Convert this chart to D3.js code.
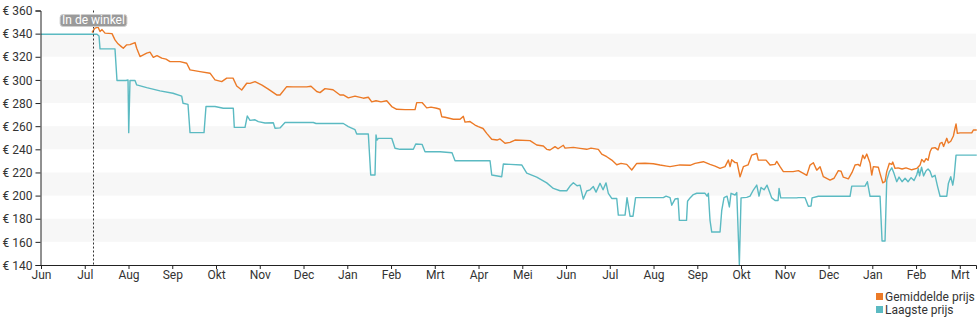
<!DOCTYPE html>
<html><head><meta charset="utf-8">
<script src="https://cdn.jsdelivr.net/npm/d3@7"></script>
<style>
body{margin:0;background:#fff;}
svg{font-family:Roboto,"Noto Sans",sans-serif;}
</style></head>
<body><svg id="c" width="980" height="325"></svg>
<script>
const monthLabels = ["Jun","Jul","Aug","Sep","Okt","Nov","Dec","Jan","Feb","Mrt","Apr","Mei","Jun","Jul","Aug","Sep","Okt","Nov","Dec","Jan","Feb","Mrt"];
const priceTicks = [140,160,180,200,220,240,260,280,300,320,340,360];
const bandRanges = [[320,340],[280,300],[240,260],[200,220],[160,180]];
const inStoreMonth = 1.19;
const inStoreLabel = "In de winkel";
const seriesNames = ["Gemiddelde prijs","Laagste prijs"];

// [month position, price]
const avgPrice = [
[1.166,341],[1.234,344.7],[1.303,345.6],[1.349,341.8],[1.394,343.5],[1.463,340.4],[1.623,340],[1.691,334.6],[1.760,331.2],[1.829,329],[1.881,327.4],[1.959,330.3],[2.034,330.5],[2.149,332.3],[2.187,327.4],[2.263,320.2],[2.416,323.1],[2.491,324],[2.567,319.5],[2.651,321],[2.759,318.8],[2.857,318],[2.949,315.8],[3.177,315.8],[3.330,314.4],[3.406,308.7],[3.634,307.2],[3.863,305.8],[3.977,300],[4.130,298.5],[4.245,301.5],[4.389,301.5],[4.473,294.8],[4.587,291.3],[4.702,297.1],[4.777,297],[4.891,298.5],[5.051,295.5],[5.195,292],[5.387,287],[5.463,287],[5.616,294.2],[5.760,294],[6.073,294],[6.171,294.5],[6.302,290],[6.377,289],[6.491,292.5],[6.674,291.5],[6.834,287],[6.910,287],[7.024,284.5],[7.177,286],[7.367,284.2],[7.481,285],[7.559,281],[7.657,282],[7.771,281],[7.902,282],[8.016,277],[8.130,274.6],[8.320,274.3],[8.549,274.3],[8.587,280.4],[8.709,280.4],[8.816,275.8],[8.914,276.5],[9.044,275.5],[9.120,274.6],[9.159,268.2],[9.234,267.7],[9.424,266],[9.577,266],[9.653,268.5],[9.691,263.5],[9.806,264],[9.920,261],[9.995,259.6],[10.103,258],[10.187,253.8],[10.302,248.7],[10.423,248],[10.491,249],[10.606,245.2],[10.720,246],[10.834,248],[11.177,247.5],[11.330,243.7],[11.481,242.9],[11.559,240],[11.634,239.4],[11.749,242.3],[11.817,240.5],[11.938,243.5],[11.977,241],[12.167,241.7],[12.320,240.8],[12.473,240],[12.571,241],[12.738,240],[12.816,235.9],[12.930,233.6],[13.045,230.7],[13.159,226.7],[13.257,227.8],[13.387,227],[13.502,222.1],[13.616,227.8],[13.806,228],[13.995,227.5],[14.149,226.4],[14.302,225.5],[14.377,225],[14.606,226.5],[14.834,226.2],[14.949,227.9],[15.138,229.3],[15.291,227],[15.406,225.5],[15.520,223.5],[15.634,225],[15.710,230.7],[15.749,225],[15.787,231],[15.863,228.5],[15.909,228.5],[15.977,216.3],[16.053,225],[16.160,226.5],[16.245,235],[16.359,236.4],[16.395,230.7],[16.571,230.7],[16.663,226.4],[16.777,227],[16.816,229.5],[16.891,225],[16.967,220.7],[17.189,220.7],[17.310,221.6],[17.424,219.2],[17.502,217.5],[17.577,226.4],[17.653,228.4],[17.730,222],[17.806,225],[17.881,216.3],[18.034,213.4],[18.126,215],[18.224,221.6],[18.286,221],[18.338,215.9],[18.453,214.5],[18.537,220],[18.606,226.4],[18.674,227],[18.720,225.5],[18.782,235],[18.823,232],[18.873,235.9],[18.949,227.9],[18.987,217.8],[19.024,225],[19.138,224.5],[19.177,219],[19.239,211.1],[19.291,212],[19.330,220.7],[19.390,227.9],[19.445,227],[19.467,229],[19.520,223.5],[19.589,224],[19.680,223],[19.771,224],[19.902,222.3],[20.016,223.5],[20.091,226.4],[20.130,231.3],[20.183,229],[20.229,232],[20.274,230.5],[20.320,237.9],[20.359,240.9],[20.434,241.5],[20.503,239.5],[20.549,245.2],[20.594,246],[20.629,242.5],[20.702,249.5],[20.739,245.5],[20.793,247],[20.853,251.5],[20.891,258.2],[20.914,261.9],[20.944,253.8],[21.006,254.2],[21.273,254.2],[21.310,256.7],[21.387,256.7]
];
const lowPrice = [
[0,339.5],[1.280,339.5],[1.326,338],[1.349,326.8],[1.691,326.8],[1.737,299.5],[1.943,299.5],[1.989,300],[2.005,254.4],[2.034,299.5],[2.149,299.5],[2.187,295.7],[2.416,293.3],[2.720,290.5],[3.017,288.5],[3.216,286],[3.246,279.8],[3.360,278.8],[3.406,254.4],[3.726,254.4],[3.771,277],[3.977,277],[4.167,275.5],[4.395,275.5],[4.418,259],[4.663,259],[4.715,268.8],[4.777,265],[4.891,265.5],[4.967,263.9],[5.120,262.8],[5.310,263],[5.349,258.2],[5.463,258.5],[5.577,263.2],[6.224,263.2],[6.286,262.3],[6.910,262.3],[7.024,259.6],[7.177,257],[7.216,253.2],[7.481,253.2],[7.536,217.8],[7.634,217.8],[7.657,252.4],[7.680,248],[7.710,249.5],[8.016,249.5],[8.091,240.9],[8.206,240],[8.510,240],[8.565,244.6],[8.709,244.3],[8.777,237.9],[9.120,237.9],[9.394,237],[9.463,230.1],[10.263,230.1],[10.302,217.8],[10.530,216.3],[10.567,227.3],[10.720,227],[10.987,226.5],[11.102,219.5],[11.330,216],[11.559,211],[11.710,206.2],[11.863,204.2],[12.016,204.2],[12.091,208.2],[12.167,211.1],[12.251,208.5],[12.320,209],[12.395,197],[12.473,204],[12.549,205],[12.624,207.8],[12.686,203],[12.777,210.6],[12.846,205],[12.914,211],[12.967,201.9],[13.045,197.5],[13.159,197.5],[13.195,183.1],[13.349,183.1],[13.394,198.2],[13.463,182.2],[13.531,182.2],[13.589,198.2],[14.224,198.2],[14.286,199.5],[14.377,198.2],[14.416,191.7],[14.491,197],[14.560,197.5],[14.590,178.6],[14.754,178.6],[14.777,195.1],[14.834,198],[14.910,200.9],[14.987,202],[15.177,202],[15.223,199.5],[15.253,202],[15.291,178.6],[15.330,168.5],[15.520,168.5],[15.559,187.3],[15.611,198.2],[15.680,199.5],[15.733,190.2],[15.771,202],[15.863,200.5],[15.902,202.6],[15.961,140.5],[16.000,198],[16.130,198.5],[16.206,199.5],[16.281,204.8],[16.359,209.1],[16.411,199.5],[16.457,207],[16.526,205],[16.594,209],[16.624,206],[16.702,198],[16.777,195.7],[16.846,195.7],[16.869,206.2],[16.907,198],[17.273,198],[17.310,198.2],[17.463,198.2],[17.538,190.8],[17.600,191],[17.623,198],[17.767,199.4],[18.491,199.4],[18.530,208.2],[18.834,208.2],[18.887,212],[18.949,199.4],[19.177,199.4],[19.223,160.8],[19.291,160.8],[19.330,213.4],[19.390,220.7],[19.445,224],[19.497,219],[19.559,212],[19.611,216],[19.680,212],[19.749,215],[19.817,212],[19.886,215.5],[19.954,213],[20.016,218],[20.053,223.2],[20.080,217],[20.126,224.5],[20.171,217],[20.229,221.5],[20.274,223],[20.320,221],[20.366,216],[20.434,217.5],[20.491,208],[20.549,199.4],[20.702,199.4],[20.739,210.5],[20.793,216.3],[20.839,209],[20.869,216],[20.914,235],[21.387,235]
];

const colors = ["#ec7a27","#5bbac2"];
const svg = d3.select("#c");
const x = d3.scaleLinear().domain([0, 21.37]).range([41, 976]);
const y = d3.scaleLinear().domain([140, 360]).range([265, 10.5]);

// bands
svg.append("g").selectAll("rect").data(bandRanges).join("rect")
  .attr("x", x(0)).attr("width", x(21.37) - x(0))
  .attr("y", d => y(d[1])).attr("height", d => y(d[0]) - y(d[1]))
  .attr("fill", "#f7f7f7");

// lines
const line = d3.line().x(d => x(d[0])).y(d => y(d[1]));
svg.append("path").datum(lowPrice).attr("d", line)
  .attr("fill","none").attr("stroke",colors[1]).attr("stroke-width",1.4).attr("stroke-linejoin","round");
svg.append("path").datum(avgPrice).attr("d", line)
  .attr("fill","none").attr("stroke",colors[0]).attr("stroke-width",1.4).attr("stroke-linejoin","round");

// axes
const xAxis = d3.axisBottom(x).tickValues(d3.range(monthLabels.length))
  .tickFormat(i => monthLabels[i]).tickSizeOuter(0).tickSize(4);
const gx = svg.append("g").attr("transform", `translate(0,${y(140)})`).call(xAxis);
const yAxis = d3.axisLeft(y).tickValues(priceTicks).tickFormat(d => "€ " + d).tickSizeOuter(0).tickSize(5);
const gy = svg.append("g").attr("transform", `translate(${x(0) - 0.5},0)`).call(yAxis);
[gx, gy].forEach(g => {
  g.selectAll("text").attr("font-size", 12).attr("fill", "#333").attr("font-family","Roboto, sans-serif");
  g.selectAll("line").attr("stroke", "#222");
  g.select(".domain").attr("stroke", "#222");
});
gx.selectAll("text").attr("dy", "0.6em");
gy.selectAll("text").attr("dy", "0.35em");

// in-store marker
const xs = Math.round(x(inStoreMonth)) + 0.5;
svg.append("line").attr("x1", xs).attr("x2", xs).attr("y1", y(360)).attr("y2", y(140))
  .attr("stroke", "#333").attr("stroke-dasharray", "2,2").attr("stroke-width", 1);
const lbl = svg.append("g");
const lt = lbl.append("text").attr("x", xs).attr("y", 24).attr("text-anchor","middle")
  .attr("font-size", 12).attr("fill", "#fff").text(inStoreLabel);
const bb = lt.node().getBBox();
lbl.insert("rect", "text").attr("x", bb.x - 2).attr("y", 14.5).attr("width", bb.width + 4).attr("height", 12)
  .attr("rx", 3).attr("fill", "#9a9a9a").attr("stroke", "#cfcfcf").attr("stroke-width", 1);

// legend
const lg = svg.append("g").selectAll("g").data(seriesNames).join("g")
  .attr("transform", (d, i) => `translate(876,${292 + i * 13})`);
lg.append("rect").attr("width", 7).attr("height", 7).attr("y", 1).attr("fill", (d, i) => colors[i]);
lg.append("text").attr("x", 9).attr("y", 8.5).attr("font-size", 12).attr("fill", "#333").text(d => d);
</script></body></html>
